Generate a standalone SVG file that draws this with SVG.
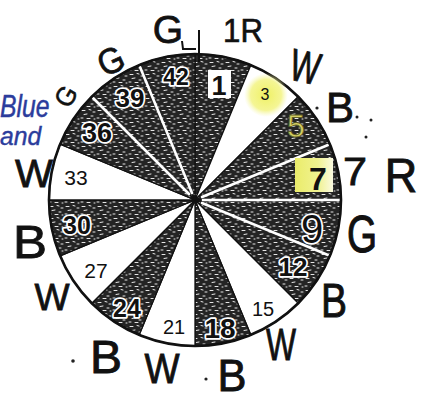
<svg xmlns="http://www.w3.org/2000/svg" width="428" height="401" viewBox="0 0 428 401">
<defs>
<pattern id="tx" width="16" height="12" patternUnits="userSpaceOnUse">
<rect width="16" height="12" fill="#242424"/>
<path d="M2 2.5h3M9 1.5l2 .5M13 4h2M4 6.5l3-.5M11 8h2M1 10h2M7 10.5h3M14 11h1" stroke="#e6e6e6" stroke-width="1" stroke-linecap="round" fill="none"/>
</pattern>
<radialGradient id="hl3" cx="0.5" cy="0.5" r="0.5">
<stop offset="0" stop-color="#eef05a" stop-opacity="0.95"/>
<stop offset="0.7" stop-color="#f2f37a" stop-opacity="0.8"/>
<stop offset="1" stop-color="#f6f7b0" stop-opacity="0"/>
</radialGradient>
<linearGradient id="hl7" x1="0" y1="0" x2="1" y2="0">
<stop offset="0" stop-color="#eaec6a"/>
<stop offset="0.6" stop-color="#f0f290"/>
<stop offset="1" stop-color="#fafae0"/>
</linearGradient>
<style>
.dk{fill:url(#tx);stroke:#111;stroke-width:1.3;stroke-linejoin:round}
.wt{fill:#fff;stroke:#111;stroke-width:1.3}
.gap{stroke:#fff;stroke-width:2.6;stroke-linecap:round}
.num{font-family:"Liberation Sans",Arial,sans-serif;fill:#111;text-anchor:middle}
.dn{font-family:"Liberation Sans",Arial,sans-serif;font-weight:bold;fill:#111;text-anchor:middle;stroke:#fff;stroke-width:3.5;paint-order:stroke;stroke-linejoin:round}
.hw{font-family:"Liberation Sans",Arial,sans-serif;font-size:30px;fill:#111;stroke:#111;stroke-width:0.6;text-anchor:middle}
.bl{font-family:"Liberation Sans",Arial,sans-serif;font-style:italic;font-size:26px;fill:#2b3c9c;stroke:#2b3c9c;stroke-width:0.4}
.dot{fill:#222}
</style>
</defs>
<rect width="428" height="401" fill="#fff"/>

<g id="wheel">
<circle cx="195" cy="200" r="146" fill="#fff"/>
<g id="s1"><path class="dk" d="M195 200L195 54A146 146 0 0 1 250.87 65.11Z"/></g>
<g id="s3"><path class="wt" d="M195 200L250.87 65.11A146 146 0 0 1 298.24 96.76Z"/></g>
<g id="s5"><path class="dk" d="M195 200L298.24 96.76A146 146 0 0 1 329.89 144.13Z"/></g>
<g id="s7"><path class="dk" d="M195 200L329.89 144.13A146 146 0 0 1 341 200Z"/></g>
<g id="s9"><path class="dk" d="M195 200L341 200A146 146 0 0 1 329.89 255.87Z"/></g>
<g id="s12"><path class="dk" d="M195 200L329.89 255.87A146 146 0 0 1 298.24 303.24Z"/></g>
<g id="s15"><path class="wt" d="M195 200L298.24 303.24A146 146 0 0 1 250.87 334.89Z"/></g>
<g id="s18"><path class="dk" d="M195 200L250.87 334.89A146 146 0 0 1 195 346Z"/></g>
<g id="s21"><path class="wt" d="M195 200L195 346A146 146 0 0 1 139.13 334.89Z"/></g>
<g id="s24"><path class="dk" d="M195 200L139.13 334.89A146 146 0 0 1 91.76 303.24Z"/></g>
<g id="s27"><path class="wt" d="M195 200L91.76 303.24A146 146 0 0 1 60.11 255.87Z"/></g>
<g id="s30"><path class="dk" d="M195 200L60.11 255.87A146 146 0 0 1 49 200Z"/></g>
<g id="s33"><path class="wt" d="M195 200L49 200A146 146 0 0 1 60.11 144.13Z"/></g>
<g id="s36"><path class="dk" d="M195 200L60.11 144.13A146 146 0 0 1 91.76 96.76Z"/></g>
<g id="s39"><path class="dk" d="M195 200L91.76 96.76A146 146 0 0 1 139.13 65.11Z"/></g>
<g id="s42"><path class="dk" d="M195 200L139.13 65.11A146 146 0 0 1 195 54Z"/></g>
<g id="gaps">
<line class="gap" x1="202" y1="197" x2="328" y2="145"/>
<line class="gap" x1="203" y1="200" x2="339" y2="200"/>
<line class="gap" x1="202" y1="203" x2="328" y2="255"/>
<line class="gap" x1="189" y1="194" x2="93" y2="98"/>
<line class="gap" x1="192" y1="193" x2="140" y2="67"/>
</g>
<circle cx="195" cy="200" r="146" fill="none" stroke="#111" stroke-width="2.6"/>
</g>

<g id="highlights">
<circle cx="266" cy="95" r="22" fill="url(#hl3)"/>
<rect x="295" y="158" width="38" height="34" fill="url(#hl7)"/>
<rect x="208" y="70" width="23" height="28" fill="#fff"/>
</g>

<g id="labels">
<text class="num" x="219" y="95" font-size="27" font-weight="bold">1</text>
<text class="num" x="265" y="100" font-size="16">3</text>
<text class="num" x="296" y="137" font-size="32" style="fill:#d6d064;stroke:#5f5e26;stroke-width:0.8">5</text>
<text class="num" x="318" y="190" font-size="32" font-weight="bold">7</text>
<text class="dn" x="312" y="243" font-size="40" style="font-weight:normal">9</text>
<text class="dn" x="293" y="276" font-size="26">12</text>
<text class="num" x="263" y="316" font-size="20">15</text>
<text class="dn" x="220" y="338" font-size="28">18</text>
<text class="num" x="174" y="334" font-size="20">21</text>
<text class="dn" x="127" y="317" font-size="25">24</text>
<text class="num" x="96" y="278" font-size="21">27</text>
<text class="dn" x="77" y="234" font-size="25">30</text>
<text class="num" x="76" y="185" font-size="21">33</text>
<text class="dn" x="97" y="142" font-size="27">36</text>
<text class="dn" x="130" y="107" font-size="26">39</text>
<text class="dn" x="176" y="85" font-size="23">42</text>
</g>

<g id="annotations">
<path d="M199 30V62M182 41l1 8h13" fill="none" stroke="#111" stroke-width="2"/>
<text class="hw" transform="translate(168 43) scale(1.3 1.3)">G</text>
<text class="hw" transform="translate(243 42) scale(1.04 1.12)">1R</text>
<text class="hw" transform="translate(302 82) rotate(12) scale(1.05 1.5)">W</text>
<text class="hw" transform="translate(340 122) scale(1.4 1.44)">B</text>
<text class="hw" transform="translate(355 185) scale(1.44 1.3)">7</text>
<text class="hw" transform="translate(401 192) scale(1.5 1.58)">R</text>
<text class="hw" transform="translate(362 252) scale(1.29 1.75)">G</text>
<text class="hw" transform="translate(334 317) scale(1.3 1.58)">B</text>
<text class="hw" transform="translate(281 360) scale(1.06 1.45)">W</text>
<text class="hw" transform="translate(232 391) scale(1.45 1.5)">B</text>
<text class="hw" transform="translate(162 383) scale(1.24 1.44)">W</text>
<text class="hw" transform="translate(106 373) scale(1.6 1.53)">B</text>
<text class="hw" transform="translate(52 310) scale(1.24 1.26)">W</text>
<text class="hw" transform="translate(30 258) scale(1.7 1.53)">B</text>
<text class="hw" transform="translate(34 187) scale(1.34 1.32)">W</text>
<text class="hw" transform="translate(116 72) rotate(-25) scale(1.1 1.2)">G</text>
<text class="hw" transform="translate(74 101) rotate(-60) scale(0.85 0.9)">G</text>
<text class="bl" transform="translate(0 117) scale(0.95 1.2)">Blue</text>
<text class="bl" transform="translate(0 145) scale(0.95 1.0)">and</text>
<circle class="dot" cx="317" cy="108" r="1.6"/>
<circle class="dot" cx="357" cy="117" r="1.5"/>
<circle class="dot" cx="371" cy="120" r="1.5"/>
<circle class="dot" cx="366" cy="137" r="1.5"/>
<circle class="dot" cx="73" cy="361" r="1.8"/>
<circle class="dot" cx="206" cy="379" r="1.6"/>
</g>
</svg>
